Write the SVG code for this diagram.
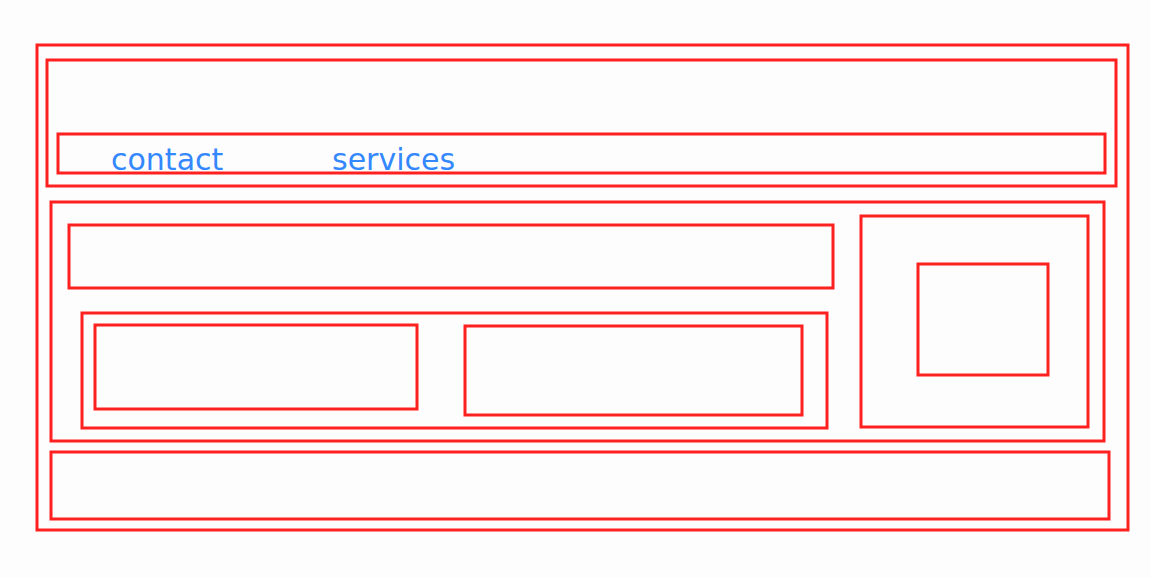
<svg xmlns="http://www.w3.org/2000/svg" width="1150" height="578" viewBox="0 0 1150 578">
<style>
rect.b{fill:none;stroke:#ff2020;stroke-width:3}
text{font-family:"DejaVu Sans",sans-serif;font-size:30px;fill:#3388ff}
</style>
<rect x="0" y="0" width="1150" height="578" fill="#fdfdfd"/>
<g id="page"><rect class="b" x="37" y="45" width="1091" height="485"/></g>
<g id="header"><rect class="b" x="47" y="60" width="1069" height="126"/></g>
<g id="nav"><rect class="b" x="58" y="134" width="1047" height="39"/>
<text x="111" y="170">contact</text>
<text x="332" y="170">services</text></g>
<g id="main"><rect class="b" x="51" y="202" width="1053" height="239"/></g>
<g id="banner"><rect class="b" x="69" y="225" width="764" height="63"/></g>
<g id="cards"><rect class="b" x="82" y="313" width="745" height="115"/></g>
<g id="card1"><rect class="b" x="95" y="325" width="322" height="84"/></g>
<g id="card2"><rect class="b" x="465" y="326" width="337" height="89"/></g>
<g id="sidebar"><rect class="b" x="861" y="216" width="227" height="211"/></g>
<g id="sidebar-box"><rect class="b" x="918" y="264" width="130" height="111"/></g>
<g id="footer"><rect class="b" x="51" y="452" width="1058" height="67"/></g>
<g id="connectors"/>
</svg>
